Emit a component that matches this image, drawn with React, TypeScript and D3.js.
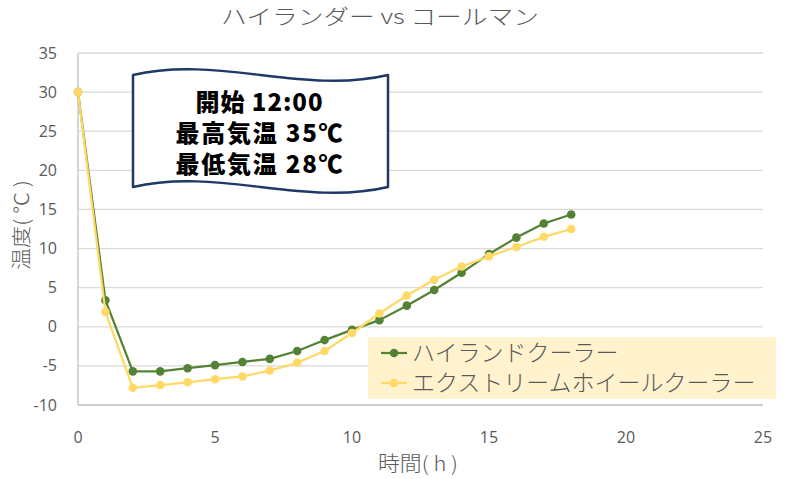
import React from "react";
import * as d3 from "d3";

const hours = [0, 1, 2, 3, 4, 5, 6, 7, 8, 9, 10, 11, 12, 13, 14, 15, 16, 17, 18];
const highland = [30, 3.4, -5.7, -5.7, -5.3, -4.9, -4.5, -4.1, -3.1, -1.7, -0.4, 0.85, 2.7, 4.7, 6.9, 9.3, 11.4, 13.2, 14.35];
const extreme = [30, 1.9, -7.8, -7.45, -7.1, -6.7, -6.35, -5.6, -4.6, -3.1, -0.8, 1.7, 4.0, 6.0, 7.7, 9.0, 10.2, 11.5, 12.5];
const seriesNames = ["ハイランドクーラー", "エクストリームホイールクーラー"];
const xTicks = [0, 5, 10, 15, 20, 25];
const yTicks = [-10, -5, 0, 5, 10, 15, 20, 25, 30, 35];
const title = "ハイランダー vs コールマン";
const xTitle = "時間( h )";
const yTitle = "温度( ℃ )";
const noteLines = ["開始 12:00", "最高気温 35℃", "最低気温 28℃"];
const noteWidths = [127, 167, 167];

const JP = "'Noto Sans CJK JP', 'Noto Sans', sans-serif";
const GREEN = "#548235";
const YELLOW = "#ffd966";
const GREY = "#595959";

export default function App() {
  const x = d3.scaleLinear().domain([0, 25]).range([78, 763]);
  const y = d3.scaleLinear().domain([-10, 35]).range([405, 53]);
  const line = d3
    .line<number>()
    .x((_, i) => x(hours[i]))
    .y((d) => y(d));

  const series = [
    { name: seriesNames[0], values: highland, color: GREEN },
    { name: seriesNames[1], values: extreme, color: YELLOW },
  ];

  // flag shape
  const fl = 133, fr = 388, ft = 75, fb = 187, d = 20;
  const w = fr - fl;
  const flag = `M${fl},${ft} C${fl + w / 3},${ft - d} ${fl + (2 * w) / 3},${ft + d} ${fr},${ft} L${fr},${fb} C${fl + (2 * w) / 3},${fb + d} ${fl + w / 3},${fb - d} ${fl},${fb} Z`;

  return (
    <svg width={800} height={479} style={{ position: "absolute", left: 0, top: 0, background: "#fff" }}>
      <rect width={800} height={479} fill="#fff" />
      <text x={380} y={24} textAnchor="middle" fontFamily={JP} fontWeight={300} fontSize={21} fill={GREY} textLength={318} lengthAdjust="spacingAndGlyphs">
        {title}
      </text>
      {yTicks.map((t) => (
        <g key={t}>
          {t !== -10 && <line x1={78} x2={763} y1={y(t)} y2={y(t)} stroke="#d9d9d9" strokeWidth={1.3} />}
          <text x={57} y={y(t)} dy="0.35em" textAnchor="end" fontFamily="'Open Sans', sans-serif" fontSize={16} fill={GREY}>
            {t}
          </text>
        </g>
      ))}
      <line x1={78} x2={78} y1={53} y2={405} stroke="#bfbfbf" strokeWidth={1.3} />
      <line x1={78} x2={763} y1={405} y2={405} stroke="#bfbfbf" strokeWidth={1.3} />
      {xTicks.map((t) => (
        <text key={t} x={x(t)} y={437} dy="0.35em" textAnchor="middle" fontFamily="'Open Sans', sans-serif" fontSize={16} fill={GREY}>
          {t}
        </text>
      ))}
      <text x={418} y={464} dy="0.35em" textAnchor="middle" fontFamily={JP} fontWeight={300} fontSize={20} fill={GREY} textLength={80} lengthAdjust="spacingAndGlyphs">
        {xTitle}
      </text>
      <text transform="translate(22,225) rotate(-90)" dy="0.35em" textAnchor="middle" fontFamily={JP} fontWeight={300} fontSize={20} fill={GREY} textLength={90} lengthAdjust="spacingAndGlyphs">
        {yTitle}
      </text>
      {series.map((s) => (
        <g key={s.name}>
          <path d={line(s.values) || ""} fill="none" stroke={s.color} strokeWidth={2.25} strokeLinejoin="round" />
          {s.values.map((v, i) => (
            <circle key={i} cx={x(hours[i])} cy={y(v)} r={4.3} fill={s.color} />
          ))}
        </g>
      ))}
      <rect x={368} y={337} width={408} height={62} fill="#fff2cc" />
      {series.map((s, i) => {
        const ly = 353 + i * 30;
        return (
          <g key={s.name}>
            <line x1={381} x2={407} y1={ly} y2={ly} stroke={s.color} strokeWidth={2.25} />
            <circle cx={394} cy={ly} r={4.3} fill={s.color} />
            <text x={412} y={ly} dy="0.35em" fontFamily={JP} fontWeight={300} fontSize={23} fill={GREY}>
              {s.name}
            </text>
          </g>
        );
      })}
      <path d={flag} fill="#fff" stroke="#1f3864" strokeWidth={2.5} strokeLinejoin="round" />
      {noteLines.map((t, i) => (
        <text key={i} x={259} y={103 + i * 31} dy="0.35em" textAnchor="middle" fontFamily={JP} fontWeight={900} fontSize={24} fill="#000" textLength={noteWidths[i]} lengthAdjust="spacing">
          {t}
        </text>
      ))}
    </svg>
  );
}
